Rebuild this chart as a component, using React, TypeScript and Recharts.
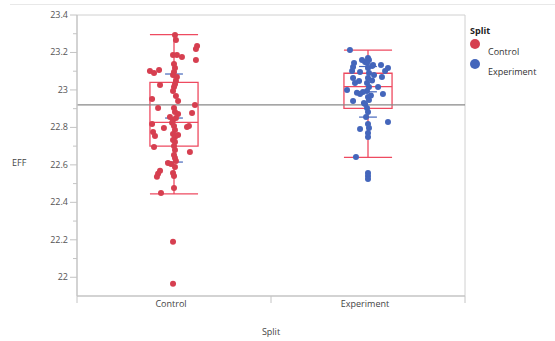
import React from 'react';
import { ComposedChart, Scatter, XAxis, YAxis, ReferenceLine, ReferenceArea } from 'recharts';

// EFF by Split; x = jitter offset around the group centre
const controlPoints = [
  { x: 0.005, y: 23.293 }, { x: 0.01, y: 23.267 }, { x: 0.119, y: 23.235 }, { x: 0.113, y: 23.219 },
  { x: -0.005, y: 23.187 }, { x: 0.015, y: 23.187 }, { x: 0.041, y: 23.176 }, { x: 0.113, y: 23.16 },
  { x: 0.0, y: 23.139 }, { x: 0.005, y: 23.117 }, { x: 0.0, y: 23.096 }, { x: -0.124, y: 23.101 },
  { x: -0.103, y: 23.091 }, { x: -0.077, y: 23.107 }, { x: -0.005, y: 23.08 }, { x: 0.015, y: 23.069 },
  { x: 0.01, y: 23.048 }, { x: -0.072, y: 23.026 }, { x: 0.0, y: 23.016 }, { x: -0.005, y: 22.994 },
  { x: 0.005, y: 23.03 }, { x: 0.01, y: 22.968 }, { x: -0.113, y: 22.952 }, { x: 0.021, y: 22.941 },
  { x: 0.108, y: 22.92 }, { x: -0.082, y: 22.904 }, { x: 0.0, y: 22.904 }, { x: 0.005, y: 22.882 },
  { x: 0.021, y: 22.872 }, { x: 0.093, y: 22.877 }, { x: -0.021, y: 22.856 }, { x: -0.005, y: 22.84 },
  { x: 0.01, y: 22.85 }, { x: -0.01, y: 22.825 }, { x: -0.113, y: 22.818 }, { x: -0.052, y: 22.797 },
  { x: 0.067, y: 22.802 }, { x: 0.077, y: 22.808 }, { x: 0.0, y: 22.808 }, { x: 0.005, y: 22.786 },
  { x: -0.108, y: 22.776 }, { x: -0.098, y: 22.754 }, { x: -0.005, y: 22.765 }, { x: 0.005, y: 22.749 },
  { x: 0.021, y: 22.76 }, { x: -0.005, y: 22.733 }, { x: 0.005, y: 22.722 }, { x: -0.103, y: 22.696 },
  { x: 0.0, y: 22.701 }, { x: 0.005, y: 22.68 }, { x: 0.082, y: 22.669 }, { x: 0.0, y: 22.653 },
  { x: 0.005, y: 22.637 }, { x: 0.01, y: 22.621 }, { x: -0.031, y: 22.61 }, { x: -0.015, y: 22.605 },
  { x: -0.072, y: 22.568 }, { x: -0.082, y: 22.552 }, { x: -0.088, y: 22.536 }, { x: -0.005, y: 22.557 },
  { x: 0.0, y: 22.541 }, { x: 0.005, y: 22.588 }, { x: 0.0, y: 22.477 }, { x: -0.067, y: 22.45 },
  { x: -0.005, y: 22.189 }, { x: -0.005, y: 21.965 },
];

const experimentPoints = [
  { x: -0.093, y: 23.213 }, { x: 0.0, y: 23.171 }, { x: 0.005, y: 23.16 }, { x: -0.072, y: 23.144 },
  { x: -0.077, y: 23.123 }, { x: -0.082, y: 23.101 }, { x: -0.015, y: 23.149 }, { x: -0.005, y: 23.144 },
  { x: 0.067, y: 23.133 }, { x: 0.103, y: 23.117 }, { x: 0.088, y: 23.101 }, { x: 0.026, y: 23.133 },
  { x: -0.041, y: 23.096 }, { x: 0.0, y: 23.117 }, { x: 0.005, y: 23.091 }, { x: 0.0, y: 23.064 },
  { x: -0.077, y: 23.064 }, { x: -0.067, y: 23.037 }, { x: -0.046, y: 23.048 }, { x: 0.072, y: 23.069 },
  { x: -0.005, y: 23.037 }, { x: 0.005, y: 23.016 }, { x: -0.005, y: 22.994 }, { x: -0.108, y: 23.0 },
  { x: 0.052, y: 23.016 }, { x: -0.026, y: 22.989 }, { x: -0.041, y: 22.978 }, { x: 0.077, y: 22.978 },
  { x: 0.0, y: 22.962 }, { x: 0.005, y: 22.946 }, { x: -0.077, y: 22.941 }, { x: -0.021, y: 22.93 },
  { x: -0.015, y: 22.925 }, { x: -0.005, y: 22.904 }, { x: 0.0, y: 22.882 }, { x: -0.01, y: 22.856 },
  { x: 0.103, y: 22.829 }, { x: 0.0, y: 22.818 }, { x: 0.005, y: 22.797 }, { x: 0.0, y: 22.77 },
  { x: 0.0, y: 22.749 }, { x: -0.041, y: 22.792 }, { x: -0.062, y: 22.642 }, { x: 0.0, y: 22.557 },
  { x: 0.0, y: 22.541 }, { x: 0.0, y: 22.525 }, { x: -0.031, y: 23.16 }, { x: 0.021, y: 23.128 },
  { x: 0.031, y: 23.08 }, { x: -0.057, y: 22.985 }, { x: 0.015, y: 22.97 }, { x: 0.021, y: 23.05 },
];

const groups = ['Control', 'Experiment'];
// box plot summary: whisker low, q1, median, q3, whisker high
const boxLow = [22.445, 22.64];
const boxQ1 = [22.7, 22.902];
const boxMedian = [22.827, 23.018];
const boxQ3 = [23.04, 23.089];
const boxHigh = [23.295, 23.213];
// mean and mean +/- sd marks
const groupMean = [22.85, 22.99];
const groupSd = [0.235, 0.135];
const grandMean = 22.92;

const yTicks = [22, 22.1, 22.2, 22.3, 22.4, 22.5, 22.6, 22.7, 22.8, 22.9, 23, 23.1, 23.2, 23.3, 23.4];
const xTicks = [-0.5, 0, 0.5, 1, 1.5];

const RED = '#d63f50';
const BLUE = '#4466bb';
const BOXLINE = '#ee4a60';
const AXIS = '#c4c4c4';
const FONT = '"Open Sans", "Noto Sans", sans-serif';

const YTick = (props: any) => {
  const { x, y, payload } = props;
  const v = payload.value;
  const major = Math.round(v * 10) % 2 === 0;
  return (
    <g>
      <line x1={x - (major ? 7 : 4)} x2={x} y1={y} y2={y} stroke={AXIS} />
      {major && (
        <text x={x - 9} y={y} dy={3} textAnchor="end" fontSize={9} fill="#555" fontFamily={FONT}>
          {String(Number(v.toFixed(1)))}
        </text>
      )}
    </g>
  );
};

const XTick = (props: any) => {
  const { x, y, payload } = props;
  const v = payload.value;
  if (v === 0 || v === 1) {
    return (
      <text x={x - 3} y={y + 11} textAnchor="middle" fontSize={9} fill="#444" fontFamily={FONT}>
        {groups[v]}
      </text>
    );
  }
  return <line x1={x} x2={x} y1={y} y2={y + 7} stroke={AXIS} />;
};

const dot = (color: string) => (props: any) => <circle cx={props.cx} cy={props.cy} r={3} fill={color} />;

const HALF = 0.124;
const CAP = 0.124;
const MEANW = 0.046;

export default function App() {
  return (
    <div style={{ position: 'absolute', left: 0, top: 0, width: 555, height: 341, background: '#fff', fontFamily: FONT }}>
      <div style={{ position: 'absolute', left: 10, right: 0, top: 4, height: 1, background: '#e8e8e8' }} />
      <ComposedChart width={555} height={341} margin={{ top: 15, right: 90, bottom: 0, left: 0 }}>
        <XAxis
          type="number"
          dataKey="x"
          domain={[-0.5, 1.5]}
          ticks={xTicks}
          interval={0}
          tick={<XTick />}
          tickLine={false}
          tickSize={0}
          tickMargin={0}
          height={45}
          axisLine={{ stroke: AXIS, strokeWidth: 1.5 }}
          label={{ value: 'Split', position: 'insideBottom', offset: 6, fontSize: 9, fill: '#444' }}
        />
        <YAxis
          type="number"
          dataKey="y"
          domain={[21.9, 23.4]}
          ticks={yTicks}
          interval={0}
          tick={<YTick />}
          tickLine={false}
          tickSize={0}
          tickMargin={0}
          width={77}
          axisLine={{ stroke: AXIS, strokeWidth: 1.5 }}
          label={{ value: 'EFF', position: 'insideLeft', offset: 12, dy: 7, fontSize: 9, fill: '#444' }}
        />
        <ReferenceLine y={23.4} stroke="#d0d0d0" />
        <ReferenceLine x={1.5} stroke="#d0d0d0" />
        <ReferenceLine y={grandMean} stroke="#888" strokeWidth={1.2} />
        {groups.map((g, i) => (
          <React.Fragment key={g}>
            <ReferenceArea x1={i - HALF} x2={i + HALF} y1={boxQ1[i]} y2={boxQ3[i]} fill="none" stroke={BOXLINE} strokeWidth={1.3} fillOpacity={0} />
            <ReferenceLine segment={[{ x: i - HALF, y: boxMedian[i] }, { x: i + HALF, y: boxMedian[i] }]} stroke={BOXLINE} strokeWidth={1.3} />
            <ReferenceLine segment={[{ x: i, y: boxQ3[i] }, { x: i, y: boxHigh[i] }]} stroke={BOXLINE} strokeWidth={1.3} />
            <ReferenceLine segment={[{ x: i, y: boxLow[i] }, { x: i, y: boxQ1[i] }]} stroke={BOXLINE} strokeWidth={1.3} />
            <ReferenceLine segment={[{ x: i - CAP, y: boxHigh[i] }, { x: i + CAP, y: boxHigh[i] }]} stroke={BOXLINE} strokeWidth={1.3} />
            <ReferenceLine segment={[{ x: i - CAP, y: boxLow[i] }, { x: i + CAP, y: boxLow[i] }]} stroke={BOXLINE} strokeWidth={1.3} />
            {[-1, 0, 1].map((k) => (
              <ReferenceLine
                key={k}
                segment={[
                  { x: i - MEANW, y: groupMean[i] + k * groupSd[i] },
                  { x: i + MEANW, y: groupMean[i] + k * groupSd[i] },
                ]}
                stroke={BLUE}
                strokeWidth={1.2}
              />
            ))}
          </React.Fragment>
        ))}
        <Scatter name="Control" data={controlPoints} shape={dot(RED)} isAnimationActive={false} />
        <Scatter name="Experiment" data={experimentPoints.map((p) => ({ x: p.x + 1, y: p.y }))} shape={dot(BLUE)} isAnimationActive={false} />
      </ComposedChart>
      <svg width={90} height={70} style={{ position: 'absolute', left: 468, top: 22, fontFamily: FONT }}>
        <text x={2} y={12} fontSize={9} fontWeight="bold" fill="#222">Split</text>
        <circle cx={7} cy={22} r={5} fill={RED} />
        <text x={20} y={33} fontSize={9} fill="#333">Control</text>
        <circle cx={7} cy={42} r={5} fill={BLUE} />
        <text x={20} y={53} fontSize={9} fill="#333">Experiment</text>
      </svg>
    </div>
  );
}
